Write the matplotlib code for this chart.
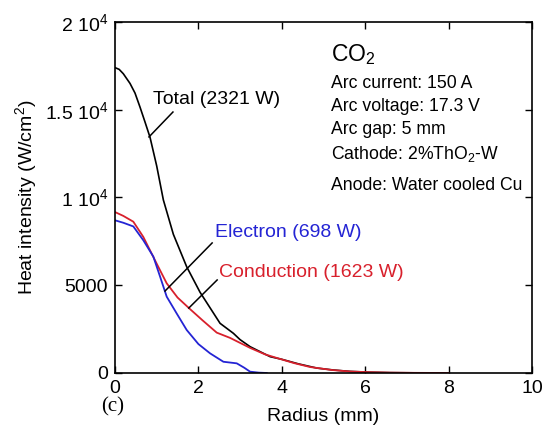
import matplotlib
matplotlib.use("Agg")
import matplotlib.pyplot as plt

plt.rcParams['font.family'] = ['Liberation Sans', 'DejaVu Sans']
plt.rcParams['mathtext.fontset'] = 'custom'
plt.rcParams['mathtext.rm'] = 'Liberation Sans'
plt.rcParams['mathtext.it'] = 'Liberation Sans:italic'
plt.rcParams['mathtext.bf'] = 'Liberation Sans:bold'

# Data
total_r = [0, 0.1, 0.2, 0.36, 0.48, 0.6, 0.72, 0.84, 1.0, 1.16, 1.4, 1.72, 2.04, 2.52, 2.84, 3.0, 3.24, 3.72, 4.0, 4.4, 4.84, 5.24, 5.64, 6.1, 6.6, 7.2, 8.0]
total_I = [17400, 17300, 17050, 16500, 15950, 15150, 14300, 13430, 11800, 9860, 7900, 6050, 4600, 2830, 2260, 1900, 1500, 930, 780, 520, 280, 170, 90, 45, 20, 8, 0]

cond_r = [0, 0.2, 0.44, 0.68, 1.0, 1.24, 1.5, 1.8, 2.1, 2.44, 2.76, 3.24, 3.6, 3.96, 4.3, 4.68, 5.2, 5.64, 6.1, 6.6, 7.2, 8.0]
cond_I = [9170, 8950, 8620, 7750, 6230, 5110, 4300, 3640, 3000, 2300, 2000, 1430, 1060, 800, 560, 340, 170, 85, 45, 20, 8, 0]

elec_r = [0, 0.2, 0.44, 0.68, 0.92, 1.08, 1.24, 1.48, 1.72, 2.0, 2.28, 2.6, 2.92, 3.1, 3.24, 3.45, 3.64]
elec_I = [8700, 8560, 8350, 7560, 6630, 5500, 4350, 3390, 2450, 1650, 1120, 640, 550, 300, 75, 20, 0]

x_ticks = [0, 2, 4, 6, 8, 10]
y_ticks = [0, 5000, 10000, 15000, 20000]
y_tick_labels = ['0', '5000', '1 10$^4$', '1.5 10$^4$', '2 10$^4$']

info_lines = ['Arc current: 150 A', 'Arc voltage: 17.3 V', 'Arc gap: 5 mm',
              'Cathode: 2%ThO$_2$-W']

fig = plt.figure(figsize=(5.45, 4.32), dpi=100)
ax = fig.add_axes([0.211, 0.1366, 0.765, 0.8125])

ax.plot(total_r, total_I, color='black', lw=1.2)
ax.plot(cond_r, cond_I, color='#d8202c', lw=1.3)
ax.plot(elec_r, elec_I, color='#2424d4', lw=1.3)

ax.set_xlim(0, 10)
ax.set_ylim(0, 20000)
ax.set_xticks(x_ticks)
ax.set_xticklabels([str(t) for t in x_ticks])
ax.set_yticks(y_ticks)
ax.set_yticklabels(y_tick_labels)
ax.tick_params(direction='in', length=5, width=1.0, labelsize=14,
               top=True, right=True, pad=5)
for s in ax.spines.values():
    s.set_linewidth(1.2)

ax.set_xlabel('Radius (mm)', fontsize=14, labelpad=8)
ax.set_ylabel('Heat intensity (W/cm$^2$)', fontsize=14, labelpad=4)

# Annotations with leader lines
ax.text(0.91, 15560, 'Total (2321 W)', fontsize=14, va='center', ha='left',
        color='black')
ax.plot([0.815, 1.39], [13450, 14870], color='black', lw=1.1)

ax.text(2.40, 8030, 'Electron (698 W)', fontsize=14, va='center', ha='left',
        color='#2424d4')
ax.plot([1.2, 2.33], [4670, 7410], color='black', lw=1.1)

ax.text(2.49, 5700, 'Conduction (1623 W)', fontsize=14, va='center',
        ha='left', color='#d8202c')
ax.plot([1.77, 2.45], [3700, 5300], color='black', lw=1.1)

# Info block
ax.text(5.18, 18120, 'CO$_2$', fontsize=16.5, va='center', ha='left')
ys = [16470, 15160, 13850, 12480]
for t, yv in zip(info_lines, ys):
    ax.text(5.18, yv, t, fontsize=12.7, va='center', ha='left')
ax.text(5.18, 10710, 'Anode: Water cooled Cu', fontsize=12.7, va='center',
        ha='left')

fig.text(113 / 545, 1 - 407 / 432, '(c)', fontsize=15, ha='center',
         va='center', family='Liberation Serif')

fig.savefig('out.png', dpi=100)
